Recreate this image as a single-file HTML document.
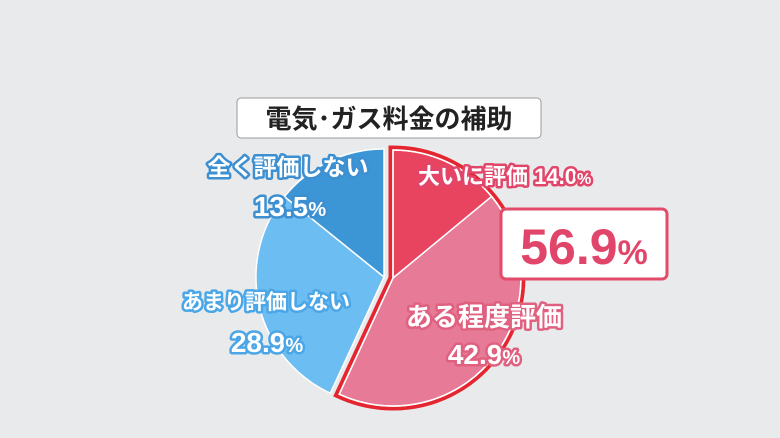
<!DOCTYPE html><html><head><meta charset="utf-8"><style>body{margin:0;background:#e9eaec}svg{display:block}text{font-family:"Liberation Sans","Noto Sans CJK JP",sans-serif;font-weight:bold}</style></head><body>
<svg width="780" height="438" viewBox="0 0 780 438">
<rect width="780" height="438" fill="#e9eaec"/>
<g transform="translate(384,277)">
<path d="M0 0 L-53.7 116.2 A128 128 0 0 1 -99.6 -80.4 Z" fill="#6cbdf1" stroke="#fff" stroke-width="1.5"/>
<path d="M0 0 L-99.6 -80.4 A128 128 0 0 1 0 -128 Z" fill="#3c95d5" stroke="#fff" stroke-width="1.5"/>
<g transform="translate(9,1)">
<path d="M0 0 L0 -128 A128 128 0 1 1 -53.8 116.2 Z" fill="none" stroke="#e3262f" stroke-width="9" stroke-linejoin="miter"/>
<path d="M0 0 L98.6 -81.6 A128 128 0 0 1 -53.8 116.2 Z" fill="#e67a97" stroke="#fff" stroke-width="1.5"/>
<path d="M0 0 L0 -128 A128 128 0 0 1 98.6 -81.6 Z" fill="#e8445f" stroke="#fff" stroke-width="1.5"/>
<path d="M0 0 L0 -128 A128 128 0 1 1 -53.8 116.2 Z" fill="none" stroke="#fff" stroke-width="1.5"/>
</g>
</g>
<rect x="237" y="98" width="304" height="40" rx="4" fill="#fff" stroke="#9a9a9a" stroke-width="1"/>
<text x="389" y="128" font-size="26" text-anchor="middle" fill="#222">電気･ガス料金の補助</text>
<rect x="501" y="209" width="166" height="70" rx="5" fill="#fff" stroke="#e34b6a" stroke-width="3"/>
<text x="584" y="264" font-size="50" text-anchor="middle" fill="#e2456a">56.9<tspan font-size="34">%</tspan></text>
<g fill="#fff" stroke-width="5" paint-order="stroke" stroke-linejoin="round">
<text x="288" y="175" font-size="23" text-anchor="middle" stroke="#3c8fd0">全く評価しない</text>
<text x="290" y="216" font-size="28" text-anchor="middle" stroke="#3c8fd0">13.5<tspan font-size="20">%</tspan></text>
<text x="266" y="309" font-size="21" text-anchor="middle" stroke="#4aa6e6">あまり評価しない</text>
<text x="267" y="352" font-size="28" text-anchor="middle" stroke="#4aa6e6">28.9<tspan font-size="20">%</tspan></text>
<text x="418" y="184" font-size="22" stroke="#e2456a">大いに評価 14.0<tspan font-size="16">%</tspan></text>
<text x="484" y="326" font-size="26" text-anchor="middle" stroke="#e0607f">ある程度評価</text>
<text x="484" y="364" font-size="28" text-anchor="middle" stroke="#e0607f">42.9<tspan font-size="20">%</tspan></text>
</g>
</svg></body></html>
